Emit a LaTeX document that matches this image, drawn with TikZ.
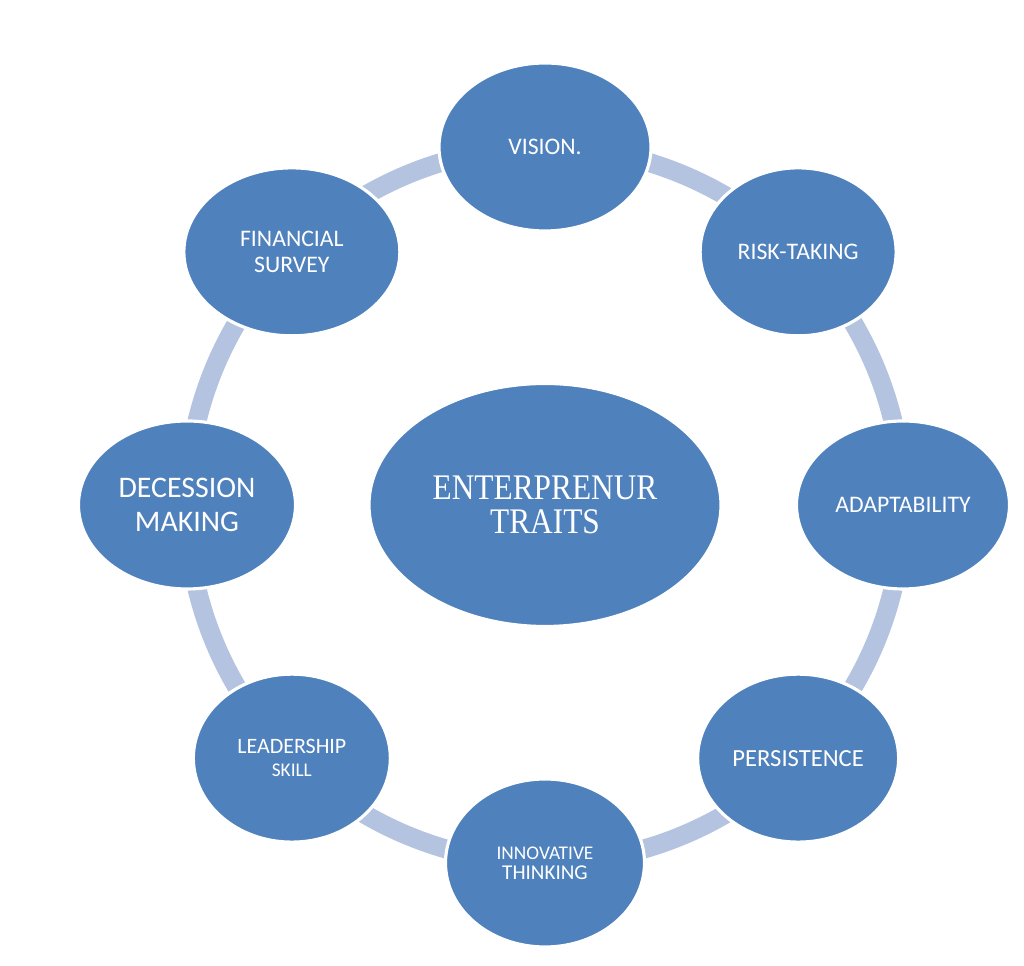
\documentclass[tikz,border=0pt]{standalone}
\usepackage{fontspec}
\usepackage{tikz}
\usetikzlibrary{shapes.geometric, calc, backgrounds}
\newfontfamily\traitfont{Carlito}
\newfontfamily\hubfont[FakeStretch=0.87]{Liberation Serif}
\definecolor{traitblue}{RGB}{79,129,189}
\definecolor{ringblue}{RGB}{179,195,224}

\begin{document}
\begin{tikzpicture}[
    trait/.style={ellipse, draw=white, line width=1.8pt, fill=traitblue, text=white,
        minimum width=4.0cm, minimum height=3.36cm, inner sep=0pt, align=center,
        font=\traitfont\fontsize{13.5}{15}\selectfont},
    hubnode/.style={ellipse, draw=white, line width=1.8pt, fill=traitblue, text=white,
        minimum width=7.04cm, minimum height=4.86cm, inner sep=0pt, align=center,
        font=\hubfont\fontsize{20.5}{19.2}\selectfont},
    ring/.style={ringblue, line width=0.38cm, bend left=22.5, looseness=0.885}
]
\useasboundingbox (0,0) rectangle (20.48,19.32);

% === CENTRE ===
\node[hubnode] (hub) at (10.90,9.22) {ENTERPRENUR\\TRAITS};

% === TRAITS AROUND THE RING ===
\node[trait, minimum width=4.24cm] (vision) at ($(hub)+(90:7.16)$) {VISION.};
\node[trait, minimum width=3.92cm] (risk) at ($(hub)+(45:7.16)$) {RISK-TAKING};
\node[trait, minimum width=4.26cm] (adapt) at ($(hub)+(0:7.16)$) {ADAPTABILITY};
\node[trait, minimum width=4.02cm, font=\traitfont\fontsize{14}{15}\selectfont]
    (persist) at ($(hub)+(-45:7.16)$) {PERSISTENCE};
\node[trait, minimum width=3.98cm, font=\traitfont\fontsize{11}{11.5}\selectfont]
    (innov) at ($(hub)+(-90:7.16)$) {INNOVATIVE\\{\fontsize{12}{11.5}\selectfont THINKING}};
\node[trait, minimum width=3.94cm, font=\traitfont\fontsize{12.5}{13.4}\selectfont]
    (lead) at ($(hub)+(-135:7.16)$) {LEADERSHIP\\{\fontsize{11}{13.4}\selectfont SKILL}};
\node[trait, minimum width=4.34cm, font=\traitfont\fontsize{17}{19}\selectfont]
    (decide) at ($(hub)+(180:7.16)$) {DECESSION\\MAKING};
\node[trait, minimum width=4.32cm, font=\traitfont\fontsize{13.5}{14.8}\selectfont]
    (finance) at ($(hub)+(135:7.16)$) {FINANCIAL\\SURVEY};

% Ring segments
\begin{scope}[on background layer]
\draw[ring] (vision.center) to (risk.center);
\draw[ring] (risk.center) to (adapt.center);
\draw[ring] (adapt.center) to (persist.center);
\draw[ring] (persist.center) to (innov.center);
\draw[ring] (innov.center) to (lead.center);
\draw[ring] (lead.center) to (decide.center);
\draw[ring] (decide.center) to (finance.center);
\draw[ring] (finance.center) to (vision.center);
\end{scope}

\end{tikzpicture}
\end{document}
